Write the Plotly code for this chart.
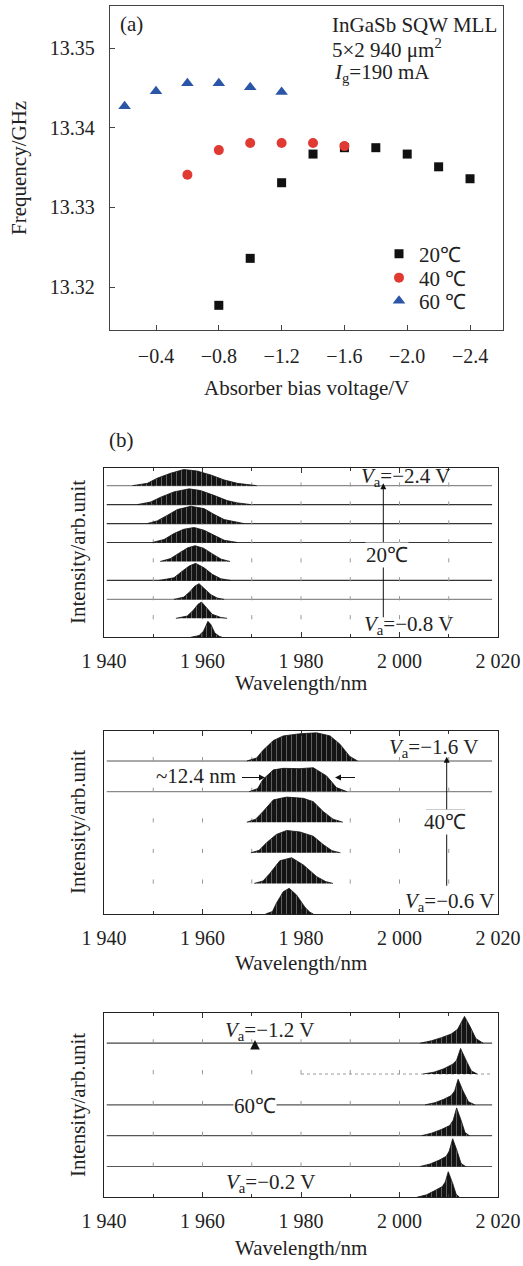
import plotly.graph_objects as go

W, H = 523, 1266
FONT = "Liberation Serif"
MINUS = "\u2212"

# ---------------- panel (a) data ----------------
bias_20 = [-0.8, -1.0, -1.2, -1.4, -1.6, -1.8, -2.0, -2.2, -2.4]
freq_20 = [13.3177, 13.3236, 13.3331, 13.3367, 13.3375, 13.3375, 13.3367, 13.3351, 13.3336]
bias_40 = [-0.6, -0.8, -1.0, -1.2, -1.4, -1.6]
freq_40 = [13.3341, 13.3372, 13.3381, 13.3381, 13.3381, 13.3377]
bias_60 = [-0.2, -0.4, -0.6, -0.8, -1.0, -1.2]
freq_60 = [13.3427, 13.3446, 13.3456, 13.3456, 13.3451, 13.3445]

bias_ticks = [-0.4, -0.8, -1.2, -1.6, -2.0, -2.4]
bias_ticktext = [MINUS + "0.4", MINUS + "0.8", MINUS + "1.2", MINUS + "1.6", MINUS + "2.0", MINUS + "2.4"]
freq_ticks = [13.32, 13.33, 13.34, 13.35]
freq_ticktext = ["13.32", "13.33", "13.34", "13.35"]

# ---------------- panel (b) spectra envelopes (row 0 = bottom) ----------------
# 20 C : Va = -0.8 ... -2.4 V
spec20_lam = [
    [1957.6, 1959.3, 1960.2, 1960.7, 1961.1, 1961.7, 1962.5, 1963.4, 1964.0],
    [1954.6, 1956.9, 1958.1, 1959.1, 1959.8, 1960.6, 1962.0, 1963.7, 1965.0],
    [1954.2, 1956.2, 1957.5, 1958.4, 1959.3, 1960.3, 1961.7, 1963.0, 1964.4],
    [1951.2, 1954.2, 1955.9, 1957.3, 1958.6, 1960.3, 1962.0, 1963.7, 1965.7],
    [1951.4, 1953.5, 1955.3, 1957.0, 1958.5, 1960.2, 1962.0, 1963.8, 1965.6],
    [1949.8, 1952.2, 1954.2, 1956.2, 1958.3, 1960.3, 1962.3, 1964.4, 1967.1],
    [1948.8, 1950.8, 1952.9, 1954.9, 1957.6, 1960.3, 1962.3, 1964.4, 1968.4],
    [1946.8, 1949.5, 1951.5, 1954.2, 1957.3, 1959.6, 1962.3, 1965.0, 1967.1, 1969.8],
    [1945.8, 1948.8, 1950.8, 1953.5, 1956.2, 1958.9, 1961.7, 1964.4, 1967.1, 1971.0],
]
spec20_h = [
    [0, 0.09, 0.32, 0.61, 0.84, 0.67, 0.23, 0.05, 0],
    [0, 0.12, 0.42, 0.74, 0.86, 0.61, 0.21, 0.05, 0],
    [0, 0.12, 0.42, 0.69, 0.83, 0.60, 0.25, 0.07, 0],
    [0, 0.14, 0.49, 0.76, 0.90, 0.67, 0.32, 0.09, 0],
    [0, 0.15, 0.45, 0.72, 0.83, 0.70, 0.40, 0.12, 0],
    [0, 0.16, 0.47, 0.70, 0.79, 0.65, 0.39, 0.12, 0],
    [0, 0.14, 0.44, 0.74, 0.91, 0.79, 0.49, 0.21, 0],
    [0, 0.14, 0.39, 0.67, 0.83, 0.74, 0.49, 0.21, 0.09, 0],
    [0, 0.12, 0.39, 0.65, 0.85, 0.77, 0.56, 0.30, 0.12, 0],
]
# 40 C : Va = -0.6 ... -1.6 V
spec40_lam = [
    [1972.8, 1974.2, 1975.0, 1976.4, 1977.6, 1979.1, 1980.8, 1981.8, 1982.5],
    [1970.5, 1972.3, 1973.7, 1975.7, 1978.1, 1980.5, 1983.2, 1985.0, 1986.5],
    [1969.8, 1971.5, 1973.0, 1975.0, 1977.1, 1979.8, 1982.5, 1984.5, 1986.3, 1988.0],
    [1969.0, 1970.8, 1972.3, 1974.4, 1977.1, 1980.5, 1982.5, 1984.5, 1986.5, 1988.5],
    [1969.5, 1971.2, 1972.3, 1974.4, 1976.4, 1979.8, 1982.5, 1985.2, 1987.2, 1989.3],
    [1969.0, 1971.0, 1972.3, 1974.4, 1976.4, 1979.8, 1983.2, 1985.9, 1987.9, 1989.9, 1991.5],
]
spec40_h = [
    [0, 0.08, 0.35, 0.73, 0.84, 0.62, 0.22, 0.06, 0],
    [0, 0.08, 0.33, 0.74, 0.84, 0.60, 0.22, 0.06, 0],
    [0, 0.08, 0.33, 0.60, 0.73, 0.68, 0.54, 0.27, 0.07, 0],
    [0, 0.10, 0.35, 0.73, 0.82, 0.78, 0.67, 0.35, 0.10, 0],
    [0, 0.10, 0.40, 0.71, 0.76, 0.75, 0.78, 0.51, 0.13, 0],
    [0, 0.10, 0.35, 0.67, 0.82, 0.89, 0.92, 0.82, 0.55, 0.15, 0],
]
# 60 C : Va = -0.2 ... -1.2 V
spec60_lam = [
    [2003.5, 2005.5, 2007.2, 2008.7, 2009.3, 2009.9, 2010.8, 2011.5, 2012.2],
    [2004.2, 2006.2, 2008.0, 2009.5, 2010.1, 2010.8, 2011.7, 2012.5, 2013.4],
    [2004.5, 2006.5, 2008.5, 2010.2, 2010.9, 2011.6, 2012.5, 2013.3, 2014.2],
    [2005.2, 2007.2, 2009.0, 2010.5, 2011.2, 2011.9, 2012.9, 2014.0, 2015.3],
    [2004.8, 2007.0, 2009.0, 2010.8, 2011.6, 2012.4, 2013.5, 2014.6, 2015.8],
    [2004.2, 2006.5, 2008.5, 2010.5, 2011.8, 2013.2, 2014.3, 2015.5, 2017.0],
]
spec60_h = [
    [0, 0.08, 0.22, 0.35, 0.50, 0.83, 0.45, 0.10, 0],
    [0, 0.08, 0.20, 0.33, 0.50, 0.90, 0.50, 0.10, 0],
    [0, 0.08, 0.20, 0.33, 0.50, 0.90, 0.50, 0.10, 0],
    [0, 0.07, 0.18, 0.30, 0.45, 0.83, 0.45, 0.10, 0],
    [0, 0.06, 0.17, 0.32, 0.45, 0.83, 0.45, 0.10, 0],
    [0, 0.08, 0.18, 0.30, 0.45, 0.87, 0.55, 0.15, 0],
]

wl_ticks = [1940, 1960, 1980, 2000, 2020]
wl_ticktext = ["1 940", "1 960", "1 980", "2 000", "2 020"]
wl_dots = [1950, 1960, 1970, 1980, 1990, 2000, 2010]

# which baselines are drawn as visible lines (row index, colour, dash, start fraction)
base20 = [(8, "#8a8a8a", "solid", 0.007), (7, "#333", "solid", 0.007), (6, "#333", "solid", 0.007),
          (5, "#333", "solid", 0.007), (3, "#333", "solid", 0.007), (2, "#8a8a8a", "solid", 0.007)]
base40 = [(5, "#555", "solid", 0.007), (4, "#8a8a8a", "solid", 0.007)]
base60 = [(5, "#444", "solid", 0.007), (4, "#999", "dot", 0.5), (3, "#555", "solid", 0.007),
          (2, "#555", "solid", 0.007), (1, "#555", "solid", 0.007)]


def px(x):
    return x / W


def py(y):
    return 1 - y / H


fig = go.Figure()

# ---- panel (a) traces (one legend each, for exact spacing)
fig.add_trace(go.Scatter(x=bias_20, y=freq_20, mode="markers", name="20\u2103",
                         marker=dict(symbol="square", size=9, color="#111"),
                         xaxis="x", yaxis="y", legend="legend"))
fig.add_trace(go.Scatter(x=bias_40, y=freq_40, mode="markers", name="40 \u2103",
                         marker=dict(symbol="circle", size=10, color="#e03a33"),
                         xaxis="x", yaxis="y", legend="legend2"))
fig.add_trace(go.Scatter(x=bias_60, y=freq_60, mode="markers", name="60 \u2103",
                         marker=dict(symbol="triangle-up", size=11, color="#2b56a8"),
                         xaxis="x", yaxis="y", legend="legend3"))

pattern = dict(shape="|", fgcolor="#7a7a7a", bgcolor="#141414", size=5,
               solidity=0.15, fillmode="replace")

panels = [
    ("x2", "y2", spec20_lam, spec20_h),
    ("x3", "y3", spec40_lam, spec40_h),
    ("x4", "y4", spec60_lam, spec60_h),
]

shapes = []
for (xa, ya, lams, hs), bases in zip(panels, [base20, base40, base60]):
    n = len(lams)
    # tick dots on each row baseline
    dx, dy = [], []
    for r in range(1, n):
        for w in wl_dots:
            dx.append(w)
            dy.append(r + 0.06)
    fig.add_trace(go.Scatter(x=dx, y=dy, mode="markers", showlegend=False,
                             hoverinfo="skip",
                             marker=dict(symbol="line-ns", size=3,
                                         line=dict(width=1, color="#999")),
                             xaxis=xa, yaxis=ya))
    for r, c, dash, x0 in bases:
        shapes.append(dict(type="line", xref=xa + " domain", yref=ya,
                           x0=x0, x1=0.985, y0=r, y1=r,
                           line=dict(color=c, width=1.2, dash=dash), layer="below"))
    for r in range(n):
        fig.add_trace(go.Scatter(
            x=lams[r], y=[r + v for v in hs[r]], mode="lines", fill="toself",
            fillcolor="#141414", fillpattern=pattern,
            line=dict(color="#111", width=0.8), showlegend=False,
            hoverinfo="skip", xaxis=xa, yaxis=ya))

axis_font = dict(family=FONT, size=20, color="#222")

wl_axis = dict(range=[1940, 2020], tickvals=wl_ticks, ticktext=wl_ticktext,
               ticks="inside", ticklen=5, tickcolor="#333",
               minor=dict(tickvals=[1950, 1970, 1990, 2010], ticks="inside",
                          ticklen=3, tickcolor="#333"),
               showline=True, linecolor="#222", linewidth=1.3, mirror="ticks",
               showgrid=False, zeroline=False, tickfont=axis_font,
               ticklabelstandoff=6, automargin=False,
               domain=[px(104), px(498)])
blank_y = dict(showticklabels=False, ticks="", showline=True, linecolor="#222",
               linewidth=1.3, mirror=True, showgrid=False, zeroline=False,
               automargin=False)

leg_common = dict(xanchor="left", yanchor="middle", bgcolor="rgba(0,0,0,0)",
                  font=dict(family=FONT, size=21, color="#222"), itemwidth=30,
                  borderwidth=0)

fig.update_layout(
    width=W, height=H, autosize=False,
    margin=dict(l=0, r=0, t=0, b=0, pad=0),
    paper_bgcolor="white", plot_bgcolor="white",
    font=dict(family=FONT, size=20, color="#222"),
    xaxis=dict(domain=[px(110), px(503)], range=[-0.107, -2.61],
               tickvals=bias_ticks, ticktext=bias_ticktext,
               ticks="inside", ticklen=5, tickcolor="#444",
               showline=True, linecolor="#444", linewidth=1.3, mirror=True,
               showgrid=False, zeroline=False, tickfont=axis_font,
               ticklabelstandoff=8, anchor="y", automargin=False),
    yaxis=dict(domain=[py(330), py(6)], range=[13.3146, 13.3553],
               tickvals=freq_ticks, ticktext=freq_ticktext,
               ticks="inside", ticklen=5, tickcolor="#444",
               showline=True, linecolor="#444", linewidth=1.3, mirror=True,
               showgrid=False, zeroline=False, tickfont=axis_font,
               ticklabelstandoff=10, anchor="x", automargin=False),
    xaxis2=dict(wl_axis, anchor="y2"),
    yaxis2=dict(blank_y, domain=[py(637.3), py(468)], range=[0, 8.93], anchor="x2"),
    xaxis3=dict(wl_axis, anchor="y3"),
    yaxis3=dict(blank_y, domain=[py(914), py(730.7)], range=[0, 5.99], anchor="x3"),
    xaxis4=dict(wl_axis, anchor="y4"),
    yaxis4=dict(blank_y, domain=[py(1197.3), py(1013)], range=[0, 5.98], anchor="x4"),
    legend=dict(leg_common, x=px(379), y=py(254)),
    legend2=dict(leg_common, x=px(379), y=py(278)),
    legend3=dict(leg_common, x=px(379), y=py(301)),
)

ann = []


def text(x, y, s, anchor="center", angle=0, bg=None, size=21):
    d = dict(x=px(x), y=py(y), xref="paper", yref="paper", text=s, showarrow=False,
             xanchor=anchor, yanchor="middle", textangle=angle,
             font=dict(family=FONT, size=size, color="#222"))
    if bg:
        d["bgcolor"] = bg
        d["borderpad"] = 0
    ann.append(d)


def arrow(x, y, ax, ay, head=2, size=1.2, width=1.0):
    ann.append(dict(x=px(x), y=py(y), xref="paper", yref="paper", text=" ",
                    showarrow=True, ax=ax, ay=ay, arrowhead=head, arrowsize=size,
                    arrowwidth=width, arrowcolor="#111",
                    font=dict(family=FONT, size=4, color="rgba(0,0,0,0)")))


def va(v):
    return "<i>V</i><sub>a</sub>=" + MINUS + v + " V"


# panel (a) texts
text(118, 24, "(a)", anchor="left")
text(330, 25, "InGaSb SQW MLL", anchor="left")
text(330, 49, "5\u00d72 940 \u03bcm<sup>2</sup>", anchor="left")
text(332, 73, "<i>I</i><sub>g</sub>=190 mA", anchor="left")
text(19, 168, "Frequency/GHz", angle=-90)
text(306, 388, "Absorber bias voltage/V")
text(107, 440, "(b)", anchor="left")

# panel b1
arrow(383.3, 483.3, 0, 138)
text(359, 477, va("2.4"), anchor="left")
text(386.7, 555, "20\u2103", bg="white")
text(362, 625, va("0.8"), anchor="left")
text(78, 552, "Intensity/arb.unit", angle=-90)
text(301, 683, "Wavelength/nm")

# panel b2
arrow(446.7, 756.7, 0, 133)
text(387, 748, va("1.6"), anchor="left")
text(445, 822, "40\u2103", bg="white")
text(403, 902, va("0.6"), anchor="left")
text(238, 776, "~12.4 nm", anchor="right")
arrow(265, 777.5, -25, 0)
arrow(335, 777.5, 22, 0)
text(78, 822, "Intensity/arb.unit", angle=-90)
text(301, 963, "Wavelength/nm")
shapes.append(dict(type="line", xref="paper", yref="paper", x0=px(426), x1=px(465),
                   y0=py(810), y1=py(810), line=dict(color="#333", width=1)))

# panel b3
arrow(255, 1040, 0, 9, head=2, size=1.6, width=1.2)
text(223, 1031, va("1.2"), anchor="left")
text(255, 1105.5, "60\u2103", bg="white")
text(224, 1183, va("0.2"), anchor="left")
text(78, 1105, "Intensity/arb.unit", angle=-90)
text(301, 1248, "Wavelength/nm")
shapes.append(dict(type="line", xref="paper", yref="paper", x0=px(235), x1=px(275),
                   y0=py(1114), y1=py(1114), line=dict(color="#333", width=1)))

fig.update_layout(annotations=ann, shapes=shapes)

fig.write_html("out.html", config={"displayModeBar": False},
               post_script="document.body.style.margin='0';document.body.style.padding='0';")
